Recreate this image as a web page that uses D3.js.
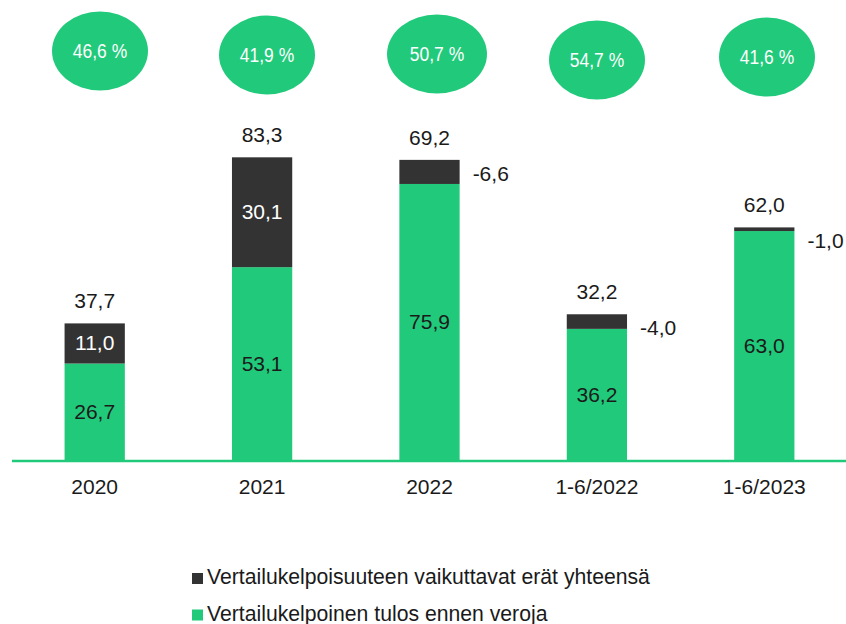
<!DOCTYPE html>
<html><head><meta charset="utf-8">
<script src="https://cdn.jsdelivr.net/npm/d3@7"></script>
<style>
html,body{margin:0;padding:0;background:#fff;}
svg{display:block;font-family:"Liberation Sans",Arial,sans-serif;}
</style></head>
<body>
<svg id="chart" width="846" height="624"></svg>
<script>
const categories = ["2020", "2021", "2022", "1-6/2022", "1-6/2023"];
const comparable = [26.7, 53.1, 75.9, 36.2, 63.0];
const items = [11.0, 30.1, -6.6, -4.0, -1.0];
const totals = [37.7, 83.3, 69.2, 32.2, 62.0];
const percentages = ["46,6 %", "41,9 %", "50,7 %", "54,7 %", "41,6 %"];
const legendLabels = ["Vertailukelpoisuuteen vaikuttavat erät yhteensä", "Vertailukelpoinen tulos ennen veroja"];

const GREEN = "#21CA7B", DARK = "#333333";
const fmt = v => d3.format(".1f")(v).replace(".", ",").replace("\u2212", "-");

const svg = d3.select("#chart");
const x = d3.scaleBand().domain(categories).range([11, 848]).paddingInner(0.64).paddingOuter(0.32);
const y = d3.scaleLinear().domain([0, 100]).range([461, 96]);
const bw = x.bandwidth();
const cx = c => x(c) + bw / 2;

// baseline
svg.append("line").attr("x1", 12).attr("x2", 846).attr("y1", y(0)).attr("y2", y(0))
  .attr("stroke", GREEN).attr("stroke-width", 2.5);

// green bars
svg.selectAll("rect.g").data(categories).join("rect").attr("class", "g")
  .attr("x", c => x(c)).attr("width", bw)
  .attr("y", (c, i) => y(comparable[i])).attr("height", (c, i) => y(0) - y(comparable[i]))
  .attr("fill", GREEN);

// dark bars (absolute value stacked on top)
svg.selectAll("rect.d").data(categories).join("rect").attr("class", "d")
  .attr("x", c => x(c)).attr("width", bw)
  .attr("y", (c, i) => y(comparable[i] + Math.abs(items[i])))
  .attr("height", (c, i) => y(comparable[i]) - y(comparable[i] + Math.abs(items[i])))
  .attr("fill", DARK);

const labelFont = 21;
// green labels
svg.selectAll("text.gl").data(categories).join("text").attr("class", "gl")
  .attr("x", cx).attr("y", (c, i) => (y(0) + y(comparable[i])) / 2 + 7)
  .attr("text-anchor", "middle").attr("font-size", labelFont).attr("fill", "#1a1a1a")
  .text((c, i) => fmt(comparable[i]));

// dark labels
svg.selectAll("text.dl").data(categories).join("text").attr("class", "dl")
  .attr("x", (c, i) => items[i] >= 0 ? cx(c) : x(c) + bw + 13)
  .attr("y", (c, i) => items[i] >= 0
      ? (y(comparable[i]) + y(comparable[i] + items[i])) / 2 + 7
      : y(comparable[i] + Math.abs(items[i])) + 21)
  .attr("text-anchor", (c, i) => items[i] >= 0 ? "middle" : "start")
  .attr("font-size", labelFont)
  .attr("fill", (c, i) => items[i] >= 0 ? "#ffffff" : "#1a1a1a")
  .text((c, i) => fmt(items[i]));

// total labels
svg.selectAll("text.tl").data(categories).join("text").attr("class", "tl")
  .attr("x", cx).attr("y", (c, i) => y(comparable[i] + Math.abs(items[i])) - 15)
  .attr("text-anchor", "middle").attr("font-size", labelFont).attr("fill", "#1a1a1a")
  .text((c, i) => fmt(totals[i]));

// category axis labels
svg.selectAll("text.cat").data(categories).join("text").attr("class", "cat")
  .attr("x", cx).attr("y", 494)
  .attr("text-anchor", "middle").attr("font-size", labelFont).attr("fill", "#1a1a1a")
  .text(c => c);

// percentage ellipses
const ellY = [51, 55, 54, 60, 57];
const ellX = [100, 267, 437, 597, 767];
const eg = svg.selectAll("g.ell").data(categories).join("g").attr("class", "ell")
  .attr("transform", (c, i) => `translate(${ellX[i]},${ellY[i]})`);
eg.append("ellipse").attr("rx", (c, i) => i === 2 ? 50 : 48).attr("ry", 39.5).attr("fill", GREEN);
eg.append("text").attr("text-anchor", "middle").attr("y", 6)
  .attr("font-size", 18).attr("fill", "#ffffff")
  .attr("transform", "scale(0.97,1.12)")
  .text((c, i) => percentages[i]);

// legend
const lg = svg.selectAll("g.leg").data(legendLabels).join("g").attr("class", "leg")
  .attr("transform", (d, i) => `translate(192,${573 + i * 36.5})`);
lg.append("rect").attr("width", 11).attr("height", 11).attr("fill", (d, i) => i === 0 ? DARK : GREEN);
lg.append("text").attr("x", 15).attr("y", 11).attr("font-size", 21.2).attr("fill", "#1a1a1a").text(d => d);
</script>
</body></html>
